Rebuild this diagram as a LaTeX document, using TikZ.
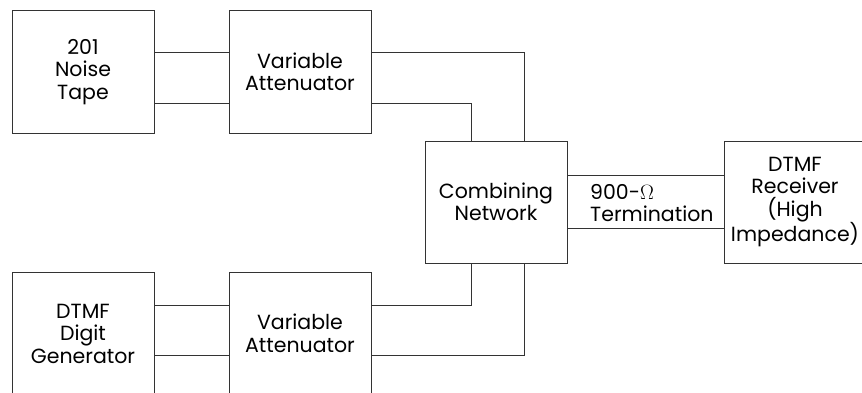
\documentclass[tikz,border=0pt]{standalone}
\usepackage{fontspec}
\setmainfont{Poppins}
\usepackage{tikz}
\usetikzlibrary{positioning}
\definecolor{wireclr}{HTML}{333333}

\begin{document}
\begin{tikzpicture}[x=1pt,y=-1pt,
  blk/.style={draw=wireclr,line width=0.9pt,minimum width=142pt,minimum height=123pt,
    align=center,font=\fontsize{20.5}{22.5}\selectfont,inner sep=0pt},
  wire/.style={draw=wireclr,line width=0.9pt}]
\clip (0,0) rectangle (862,392);
% blocks
\node[blk] (tape) at (83,72) {201\\Noise\\Tape};
\node[blk] (attT) at (300,72) {Variable\\Attenuator};
\node[blk] (gen) at (83,333.5) {DTMF\\Digit\\Generator};
\node[blk] (attB) at (300,333.5) {Variable\\Attenuator};
\node[blk,minimum height=122pt] (comb) at (496,202) {Combining\\Network};
\node[blk,minimum height=122pt] (recv) at (795,202) {DTMF\\Receiver\\(High\\Impedance)};
% pairs
\draw[wire] (tape.east |- 0,52) -- (attT.west |- 0,52);
\draw[wire] (tape.east |- 0,103) -- (attT.west |- 0,103);
\draw[wire] (gen.east |- 0,305) -- (attB.west |- 0,305);
\draw[wire] (gen.east |- 0,355) -- (attB.west |- 0,355);
\draw[wire] (attT.east |- 0,52) -| (comb.north -| 524,0);
\draw[wire] (attT.east |- 0,103) -| (comb.north -| 471,0);
\draw[wire] (attB.east |- 0,305) -| (comb.south -| 471,0);
\draw[wire] (attB.east |- 0,355) -| (comb.south -| 524,0);
\draw[wire] (comb.east |- 0,175) -- (recv.west |- 0,175);
\draw[wire] (comb.east |- 0,228) -- (recv.west |- 0,228);
\node[align=left,anchor=west,inner sep=0pt,font=\fontsize{20.5}{22.5}\selectfont] (term) at (590,203) {900-$\Omega$\\Termination};
\end{tikzpicture}
\end{document}
